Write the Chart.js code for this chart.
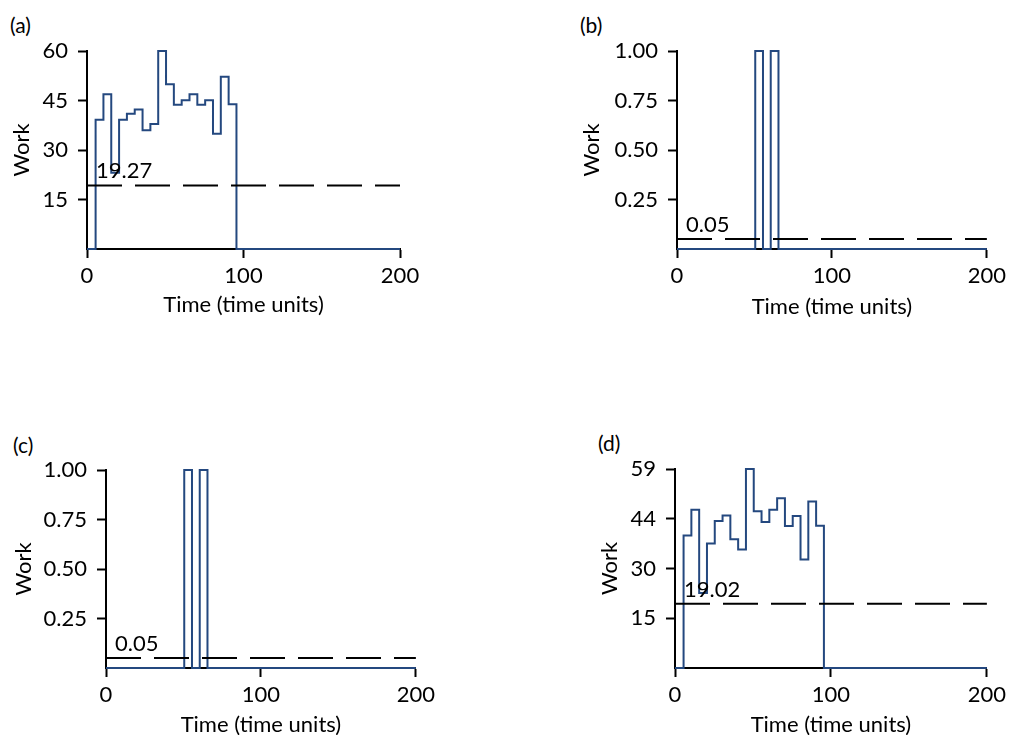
<!DOCTYPE html>
<html>
<head>
<meta charset="utf-8">
<script src="https://cdn.jsdelivr.net/npm/chart.js@4/dist/chart.umd.min.js"></script>
<style>
  body { margin: 0; width: 1011px; height: 735px; overflow: hidden; background: #fff; font-family: Lato, sans-serif; }
  canvas { position: absolute; }
  .panel-label { position: absolute; font-size: 21px; line-height: 24px; color: #000; }
</style>
</head>
<body>
<div class="panel-label" style="left:10px;top:13px">(a)</div>
<div class="panel-label" style="left:580px;top:13px">(b)</div>
<div class="panel-label" style="left:13px;top:433px">(c)</div>
<div class="panel-label" style="left:598px;top:431px">(d)</div>

<canvas id="chartA" width="430" height="322" style="left:0;top:0"></canvas>
<canvas id="chartB" width="441" height="324" style="left:570px;top:0"></canvas>
<canvas id="chartC" width="438" height="322" style="left:2px;top:420px"></canvas>
<canvas id="chartD" width="423" height="322" style="left:588px;top:420px"></canvas>

<script>
// step start times; each work value holds until the next time
const stepTimes = [0, 5.5, 10.5, 15.5, 20.5, 25.5, 30.5, 35.5, 40.5, 45.5, 50.5,
  55.5, 60.5, 65.5, 70.5, 75.5, 80.5, 85.5, 90.5, 95.5, 200];

const workA = [0, 39.2, 46.9, 23.1, 39.2, 41.0, 42.3, 36.0, 37.9, 60, 49.9,
  43.7, 45.1, 46.9, 43.7, 45.1, 34.9, 52.2, 43.9, 0, 0];
const workB = [0, 0, 0, 0, 0, 0, 0, 0, 0, 0, 1,
  0, 1, 0, 0, 0, 0, 0, 0, 0, 0];
const workC = [0, 0, 0, 0, 0, 0, 0, 0, 0, 0, 1,
  0, 1, 0, 0, 0, 0, 0, 0, 0, 0];
const workD = [0, 39.3, 46.9, 22.2, 36.9, 43.6, 45.2, 38.2, 35.1, 59, 46.5,
  43.3, 46.9, 50.3, 42.1, 45.1, 32.2, 49.4, 42.2, 0, 0];

const meanWork = [19.27, 0.05, 0.05, 19.02];

const xTicks = [0, 100, 200];
const yTicksA = [15, 30, 45, 60];
const yLabelsA = ['15', '30', '45', '60'];
const yTicksUnit = [0.25, 0.5, 0.75, 1];
const yLabelsUnit = ['0.25', '0.50', '0.75', '1.00'];
const yTicksD = [14.75, 29.5, 44.25, 59];
const yLabelsD = ['15', '30', '44', '59'];

const FONT = { family: 'Lato', size: 22 };
const LINE_BLUE = '#24487f';

// writes the mean value just above the dashed line, near the y axis
const meanLabel = {
  id: 'meanLabel',
  afterDatasetsDraw(chart, args, opts) {
    const { ctx, scales: { x, y } } = chart;
    ctx.save();
    ctx.font = '22px Lato';
    ctx.fillStyle = '#000';
    ctx.textBaseline = 'alphabetic';
    ctx.fillText(String(opts.value), x.getPixelForValue(0) + 9, y.getPixelForValue(opts.value) - 7);
    ctx.restore();
  }
};

function axisGrid() {
  return { display: true, drawOnChartArea: false, drawTicks: true, tickLength: 9, tickWidth: 2, tickColor: '#000' };
}

function makePanel(id, work, mean, yTicks, yLabels, box) {
  const canvas = document.getElementById(id);
  const yMax = yTicks[yTicks.length - 1];

  return new Chart(canvas, {
    type: 'line',
    data: {
      datasets: [
        {
          data: [{ x: 0, y: mean }, { x: 200, y: mean }],
          borderColor: '#000',
          borderWidth: 2,
          borderDash: [35, 13],
          pointRadius: 0,
          clip: false,
        },
        {
          data: stepTimes.map((t, i) => ({ x: t, y: work[i] })),
          borderColor: LINE_BLUE,
          borderWidth: 2,
          stepped: 'before',
          pointRadius: 0,
          clip: false,
        },
      ],
    },
    options: {
      responsive: false,
      animation: false,
      devicePixelRatio: 1,
      layout: { padding: { top: box.top, right: canvas.width - box.right, left: 0, bottom: 0 } },
      plugins: {
        legend: { display: false },
        tooltip: { enabled: false },
        meanLabel: { value: mean },
      },
      scales: {
        x: {
          type: 'linear',
          min: 0,
          max: 200,
          afterBuildTicks: (s) => { s.ticks = xTicks.map((v) => ({ value: v })); },
          afterFit: (s) => { s.height = canvas.height - box.bottom; },
          grid: axisGrid(),
          border: { display: true, color: '#000', width: 2 },
          ticks: { color: '#000', font: FONT, padding: 5, maxRotation: 0, autoSkip: false },
          title: { display: true, text: 'Time (time units)', color: '#000', font: FONT, padding: { top: 4, bottom: 4 } },
        },
        y: {
          type: 'linear',
          min: 0,
          max: yMax,
          afterBuildTicks: (s) => { s.ticks = yTicks.map((v) => ({ value: v })); },
          afterFit: (s) => { s.width = box.left; },
          grid: axisGrid(),
          border: { display: true, color: '#000', width: 2 },
          ticks: { color: '#000', font: FONT, padding: 10, callback: (v, i) => yLabels[i] },
          title: { display: true, text: 'Work', color: '#000', font: FONT, padding: { top: 9, bottom: 0 } },
        },
      },
    },
    plugins: [meanLabel],
  });
}

makePanel('chartA', workA, meanWork[0], yTicksA, yLabelsA, { left: 87, right: 400, top: 51, bottom: 249 });
makePanel('chartB', workB, meanWork[1], yTicksUnit, yLabelsUnit, { left: 107, right: 419, top: 51, bottom: 249 });
makePanel('chartC', workC, meanWork[2], yTicksUnit, yLabelsUnit, { left: 104, right: 416, top: 50, bottom: 248 });
makePanel('chartD', workD, meanWork[3], yTicksD, yLabelsD, { left: 87, right: 400, top: 49, bottom: 248 });
</script>
</body>
</html>
